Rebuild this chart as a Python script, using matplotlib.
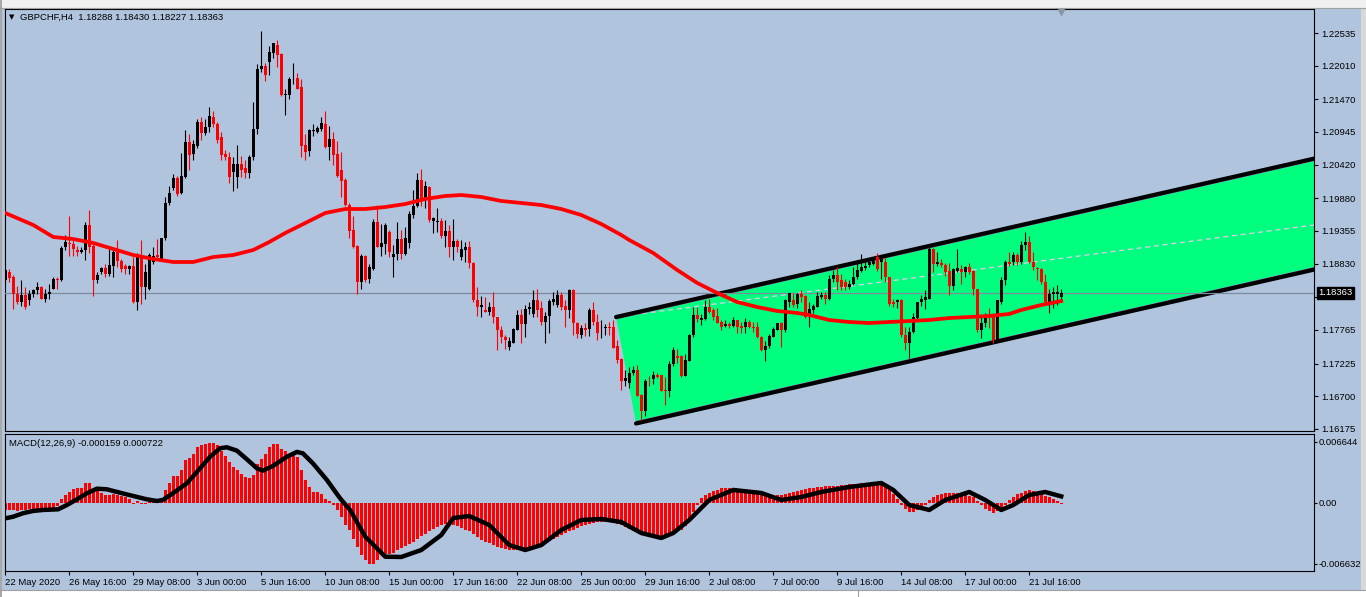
import matplotlib
matplotlib.use("Agg")
import matplotlib.pyplot as plt
from matplotlib.patches import Polygon, Rectangle
import numpy as np

W, H = 1366, 597
BG = "#b0c4de"
plt.rcParams["font.family"] = ["Liberation Sans", "DejaVu Sans"]
plt.rcParams["font.size"] = 6.8

# GBPCHF H4 candles (bar 0 = 22 May 2020 00:00)
opens = [
    1.1856, 1.1869, 1.1862, 1.1835, 1.1822, 1.1832, 1.1825, 1.1834, 1.1840, 1.1846,
    1.1827, 1.1834, 1.1843, 1.1859, 1.1856, 1.1909, 1.1917, 1.1914, 1.1905, 1.1901,
    1.1905, 1.1945, 1.1911, 1.1856, 1.1869, 1.1876, 1.1866, 1.1879, 1.1901, 1.1887,
    1.1879, 1.1874, 1.1879, 1.1821, 1.1893, 1.1845, 1.1842, 1.1885, 1.1897, 1.1890,
    1.1924, 1.1980, 1.2004, 1.2020, 1.1996, 1.2023, 1.2078, 1.2059, 1.2072, 1.2110,
    1.2093, 1.2102, 1.2118, 1.2108, 1.2086, 1.2059, 1.2054, 1.2031, 1.2023, 1.2043,
    1.2036, 1.2029, 1.2054, 1.2100, 1.2195, 1.2201, 1.2207, 1.2222, 1.2235, 1.2219,
    1.2154, 1.2154, 1.2181, 1.2182, 1.2166, 1.2073, 1.2064, 1.2096, 1.2095, 1.2099,
    1.2108, 1.2071, 1.2084, 1.2059, 1.2033, 1.2017, 1.1977, 1.1937, 1.1911, 1.1854,
    1.1895, 1.1858, 1.1874, 1.1950, 1.1910, 1.1915, 1.1934, 1.1893, 1.1898, 1.1922,
    1.1899, 1.1916, 1.1961, 1.1976, 1.2018, 1.1988, 1.2006, 1.1952, 1.1950, 1.1952,
    1.1928, 1.1936, 1.1909, 1.1920, 1.1893, 1.1905, 1.1909, 1.1884, 1.1825, 1.1813,
    1.1809, 1.1806, 1.1814, 1.1798, 1.1776, 1.1766, 1.1749, 1.1756, 1.1777, 1.1801,
    1.1786, 1.1810, 1.1802, 1.1824, 1.1811, 1.1790, 1.1799, 1.1822, 1.1817, 1.1833,
    1.1815, 1.1808, 1.1841, 1.1787, 1.1769, 1.1779, 1.1778, 1.1808, 1.1790, 1.1776,
    1.1779, 1.1781, 1.1781, 1.1750, 1.1730, 1.1694, 1.1692, 1.1707, 1.1712, 1.1672,
    1.1647, 1.1695, 1.1697, 1.1704, 1.1704, 1.1680, 1.1678, 1.1722, 1.1735, 1.1734,
    1.1703, 1.1727, 1.1769, 1.1801, 1.1792, 1.1794, 1.1814, 1.1808, 1.1799, 1.1790,
    1.1783, 1.1786, 1.1783, 1.1793, 1.1783, 1.1781, 1.1790, 1.1781, 1.1781, 1.1765,
    1.1744, 1.1750, 1.1766, 1.1777, 1.1787, 1.1776, 1.1822, 1.1824, 1.1818, 1.1834,
    1.1831, 1.1802, 1.1809, 1.1814, 1.1830, 1.1833, 1.1827, 1.1858, 1.1865, 1.1856,
    1.1854, 1.1845, 1.1850, 1.1861, 1.1872, 1.1876, 1.1881, 1.1883, 1.1893, 1.1885,
    1.1885, 1.1861, 1.1822, 1.1821, 1.1824, 1.1769, 1.1755, 1.1774, 1.1795, 1.1821,
    1.1825, 1.1827, 1.1906, 1.1883, 1.1884, 1.1881, 1.1872, 1.1847, 1.1872, 1.1874,
    1.1870, 1.1877, 1.1872, 1.1843, 1.1776, 1.1787, 1.1801, 1.1798, 1.1760, 1.1822,
    1.1856, 1.1886, 1.1885, 1.1897, 1.1885, 1.1913, 1.1918, 1.1886, 1.1876, 1.1874,
    1.1854, 1.1822, 1.1834, 1.1834, 1.18288,
]
highs = [
    1.1875, 1.1874, 1.1865, 1.1847, 1.1857, 1.1846, 1.1840, 1.1843, 1.1854, 1.1847,
    1.1842, 1.1851, 1.1861, 1.1862, 1.1912, 1.1929, 1.1959, 1.1921, 1.1912, 1.1910,
    1.1950, 1.1970, 1.1916, 1.1869, 1.1878, 1.1883, 1.1906, 1.1906, 1.1921, 1.1891,
    1.1883, 1.1881, 1.1894, 1.1900, 1.1921, 1.1883, 1.1900, 1.1910, 1.1922, 1.1924,
    1.1990, 1.2007, 1.2027, 1.2024, 1.2061, 1.2097, 1.2092, 1.2081, 1.2116, 1.2118,
    1.2116, 1.2134, 1.2128, 1.2111, 1.2095, 1.2066, 1.2063, 1.2055, 1.2073, 1.2056,
    1.2050, 1.2058, 1.2143, 1.2204, 1.2256, 1.2205, 1.2232, 1.2238, 1.2242, 1.2222,
    1.2164, 1.2183, 1.2206, 1.2190, 1.2179, 1.2092, 1.2100, 1.2107, 1.2104, 1.2118,
    1.2128, 1.2104, 1.2094, 1.2080, 1.2063, 1.2020, 1.1980, 1.1960, 1.1913, 1.1899,
    1.1897, 1.1883, 1.1954, 1.1977, 1.1947, 1.1948, 1.1937, 1.1913, 1.1950, 1.1937,
    1.1942, 1.1967, 1.2001, 1.2028, 1.2035, 1.2016, 1.2007, 1.1958, 1.1972, 1.1957,
    1.1953, 1.1945, 1.1954, 1.1922, 1.1921, 1.1918, 1.1920, 1.1885, 1.1845, 1.1831,
    1.1830, 1.1822, 1.1838, 1.1798, 1.1783, 1.1769, 1.1766, 1.1779, 1.1809, 1.1810,
    1.1817, 1.1822, 1.1841, 1.1842, 1.1823, 1.1806, 1.1826, 1.1838, 1.1841, 1.1838,
    1.1825, 1.1843, 1.1842, 1.1790, 1.1785, 1.1787, 1.1811, 1.1822, 1.1802, 1.1792,
    1.1786, 1.1790, 1.1792, 1.1761, 1.1731, 1.1713, 1.1717, 1.1718, 1.1720, 1.1674,
    1.1697, 1.1702, 1.1710, 1.1708, 1.1704, 1.1701, 1.1727, 1.1749, 1.1746, 1.1736,
    1.1738, 1.1770, 1.1814, 1.1814, 1.1802, 1.1825, 1.1826, 1.1811, 1.1811, 1.1793,
    1.1793, 1.1790, 1.1797, 1.1793, 1.1790, 1.1795, 1.1793, 1.1790, 1.1790, 1.1767,
    1.1758, 1.1770, 1.1782, 1.1788, 1.1790, 1.1826, 1.1836, 1.1836, 1.1836, 1.1841,
    1.1833, 1.1822, 1.1819, 1.1838, 1.1838, 1.1838, 1.1865, 1.1873, 1.1878, 1.1867,
    1.1859, 1.1856, 1.1877, 1.1885, 1.1899, 1.1888, 1.1890, 1.1894, 1.1900, 1.1893,
    1.1892, 1.1862, 1.1826, 1.1826, 1.1826, 1.1781, 1.1781, 1.1803, 1.1822, 1.1833,
    1.1840, 1.1915, 1.1908, 1.1902, 1.1890, 1.1884, 1.1884, 1.1876, 1.1906, 1.1881,
    1.1879, 1.1884, 1.1873, 1.1843, 1.1801, 1.1803, 1.1811, 1.1802, 1.1824, 1.1861,
    1.1889, 1.1902, 1.1902, 1.1900, 1.1920, 1.1934, 1.1927, 1.1902, 1.1878, 1.1876,
    1.1866, 1.1843, 1.1846, 1.1849, 1.18430,
]
lows = [
    1.1854, 1.1854, 1.1810, 1.1818, 1.1815, 1.1810, 1.1817, 1.1830, 1.1835, 1.1826,
    1.1822, 1.1827, 1.1842, 1.1843, 1.1855, 1.1905, 1.1895, 1.1896, 1.1895, 1.1900,
    1.1889, 1.1900, 1.1831, 1.1852, 1.1866, 1.1862, 1.1863, 1.1861, 1.1878, 1.1869,
    1.1867, 1.1866, 1.1820, 1.1809, 1.1818, 1.1827, 1.1841, 1.1882, 1.1889, 1.1889,
    1.1921, 1.1977, 1.2001, 1.1992, 1.1995, 1.2020, 1.2034, 1.2049, 1.2068, 1.2081,
    1.2089, 1.2095, 1.2103, 1.2077, 1.2050, 1.2049, 1.2013, 1.2000, 1.2005, 1.2023,
    1.2020, 1.2020, 1.2050, 1.2092, 1.2191, 1.2177, 1.2186, 1.2214, 1.2199, 1.2152,
    1.2121, 1.2148, 1.2172, 1.2163, 1.2055, 1.2050, 1.2056, 1.2088, 1.2093, 1.2096,
    1.2068, 1.2049, 1.2041, 1.2023, 1.1990, 1.1975, 1.1924, 1.1908, 1.1835, 1.1843,
    1.1854, 1.1852, 1.1873, 1.1909, 1.1895, 1.1899, 1.1894, 1.1862, 1.1889, 1.1890,
    1.1897, 1.1908, 1.1956, 1.1974, 1.1975, 1.1972, 1.1950, 1.1932, 1.1934, 1.1925,
    1.1909, 1.1894, 1.1889, 1.1901, 1.1889, 1.1886, 1.1876, 1.1822, 1.1799, 1.1798,
    1.1806, 1.1801, 1.1787, 1.1745, 1.1755, 1.1746, 1.1745, 1.1755, 1.1776, 1.1756,
    1.1766, 1.1802, 1.1798, 1.1797, 1.1785, 1.1755, 1.1771, 1.1817, 1.1814, 1.1809,
    1.1781, 1.1795, 1.1769, 1.1763, 1.1763, 1.1767, 1.1767, 1.1785, 1.1761, 1.1763,
    1.1769, 1.1769, 1.1747, 1.1724, 1.1680, 1.1686, 1.1683, 1.1704, 1.1670, 1.1632,
    1.1639, 1.1686, 1.1690, 1.1699, 1.1678, 1.1656, 1.1669, 1.1719, 1.1724, 1.1701,
    1.1702, 1.1726, 1.1766, 1.1790, 1.1785, 1.1793, 1.1804, 1.1793, 1.1787, 1.1777,
    1.1781, 1.1779, 1.1781, 1.1772, 1.1771, 1.1772, 1.1779, 1.1774, 1.1763, 1.1742,
    1.1726, 1.1747, 1.1765, 1.1776, 1.1749, 1.1774, 1.1814, 1.1814, 1.1811, 1.1822,
    1.1795, 1.1781, 1.1803, 1.1813, 1.1827, 1.1819, 1.1824, 1.1854, 1.1841, 1.1841,
    1.1840, 1.1843, 1.1849, 1.1859, 1.1870, 1.1873, 1.1878, 1.1881, 1.1872, 1.1859,
    1.1853, 1.1815, 1.1814, 1.1811, 1.1766, 1.1744, 1.1731, 1.1772, 1.1793, 1.1815,
    1.1810, 1.1826, 1.1869, 1.1879, 1.1878, 1.1863, 1.1833, 1.1840, 1.1869, 1.1851,
    1.1861, 1.1867, 1.1833, 1.1774, 1.1763, 1.1782, 1.1779, 1.1756, 1.1758, 1.1819,
    1.1849, 1.1879, 1.1881, 1.1881, 1.1882, 1.1905, 1.1884, 1.1873, 1.1857, 1.1851,
    1.1820, 1.1804, 1.1811, 1.1817, 1.18227,
]
closes = [
    1.1873, 1.1860, 1.1835, 1.1822, 1.1832, 1.1813, 1.1835, 1.1841, 1.1846, 1.1827,
    1.1835, 1.1838, 1.1859, 1.1856, 1.1908, 1.1918, 1.1914, 1.1907, 1.1901, 1.1905,
    1.1945, 1.1910, 1.1856, 1.1865, 1.1876, 1.1867, 1.1881, 1.1901, 1.1887, 1.1875,
    1.1875, 1.1879, 1.1821, 1.1893, 1.1845, 1.1869, 1.1897, 1.1896, 1.1893, 1.1924,
    1.1980, 1.1997, 1.2020, 1.1995, 1.2024, 1.2078, 1.2058, 1.2076, 1.2110, 1.2093,
    1.2103, 1.2120, 1.2107, 1.2081, 1.2058, 1.2054, 1.2023, 1.2043, 1.2043, 1.2033,
    1.2029, 1.2055, 1.2100, 1.2195, 1.2201, 1.2186, 1.2223, 1.2237, 1.2218, 1.2154,
    1.2155, 1.2180, 1.2182, 1.2164, 1.2072, 1.2063, 1.2097, 1.2097, 1.2101, 1.2109,
    1.2070, 1.2084, 1.2057, 1.2024, 1.2016, 1.1977, 1.1936, 1.1909, 1.1854, 1.1895,
    1.1857, 1.1877, 1.1950, 1.1910, 1.1917, 1.1945, 1.1901, 1.1899, 1.1922, 1.1899,
    1.1924, 1.1963, 1.1976, 1.2017, 1.1985, 1.2007, 1.1953, 1.1957, 1.1952, 1.1928,
    1.1936, 1.1909, 1.1920, 1.1909, 1.1906, 1.1909, 1.1884, 1.1824, 1.1813, 1.1817,
    1.1806, 1.1814, 1.1797, 1.1776, 1.1765, 1.1760, 1.1758, 1.1778, 1.1801, 1.1786,
    1.1810, 1.1814, 1.1824, 1.1809, 1.1790, 1.1799, 1.1823, 1.1827, 1.1833, 1.1814,
    1.1808, 1.1841, 1.1787, 1.1770, 1.1779, 1.1777, 1.1808, 1.1790, 1.1772, 1.1777,
    1.1781, 1.1780, 1.1747, 1.1728, 1.1694, 1.1699, 1.1707, 1.1712, 1.1671, 1.1647,
    1.1695, 1.1694, 1.1704, 1.1701, 1.1679, 1.1678, 1.1722, 1.1744, 1.1731, 1.1703,
    1.1728, 1.1769, 1.1801, 1.1794, 1.1795, 1.1814, 1.1806, 1.1797, 1.1788, 1.1781,
    1.1786, 1.1783, 1.1793, 1.1781, 1.1779, 1.1790, 1.1781, 1.1779, 1.1765, 1.1744,
    1.1751, 1.1767, 1.1778, 1.1788, 1.1776, 1.1824, 1.1836, 1.1817, 1.1834, 1.1830,
    1.1797, 1.1810, 1.1815, 1.1831, 1.1833, 1.1827, 1.1859, 1.1865, 1.1854, 1.1846,
    1.1845, 1.1851, 1.1861, 1.1873, 1.1877, 1.1879, 1.1885, 1.1888, 1.1874, 1.1890,
    1.1861, 1.1819, 1.1819, 1.1824, 1.1769, 1.1755, 1.1774, 1.1797, 1.1822, 1.1826,
    1.1829, 1.1906, 1.1883, 1.1885, 1.1881, 1.1870, 1.1847, 1.1874, 1.1876, 1.1869,
    1.1877, 1.1870, 1.1843, 1.1776, 1.1787, 1.1798, 1.1795, 1.1760, 1.1824, 1.1857,
    1.1886, 1.1883, 1.1897, 1.1885, 1.1913, 1.1918, 1.1885, 1.1878, 1.1874, 1.1854,
    1.1822, 1.1834, 1.1837, 1.1837, 1.18363,
]

# red moving average, sampled along the curve
ma_bars = [0, 7, 12, 17, 22, 27, 32, 37, 42, 47, 52, 57, 62, 66, 70, 75, 80, 85, 90,
           95, 100, 105, 110, 114, 119, 124, 129, 134, 139, 144, 149, 154, 156, 162,
           168, 173, 178, 183, 188, 193, 198, 201, 206, 211, 216, 221, 226, 231, 236,
           241, 246, 251, 254, 259, 264]
ma_vals = [1.19644, 1.19451, 1.19258, 1.19226, 1.19162, 1.19066, 1.18969, 1.18905,
           1.18857, 1.18857, 1.18937, 1.18969, 1.19050, 1.19178, 1.19323, 1.19483,
           1.19644, 1.19708, 1.19708, 1.19740, 1.19788, 1.19869, 1.19917, 1.19933,
           1.19901, 1.19837, 1.19805, 1.19772, 1.19708, 1.19612, 1.19467, 1.19291,
           1.19210, 1.19001, 1.18728, 1.18520, 1.18359, 1.18214, 1.18134, 1.18070,
           1.18038, 1.18006, 1.17925, 1.17893, 1.17877, 1.17893, 1.17909, 1.17925,
           1.17957, 1.17973, 1.17990, 1.18022, 1.18086, 1.18166, 1.18230]

# channel object (two rays + dashed middle line)
upper_x = [152.7, 340.0]
upper_y = [1.17973, 1.20704]
lower_x = [157.7, 340.0]
lower_y = [1.16263, 1.18921]
mid_x = [152.7, 340.0]
mid_y = [1.17973, 1.19559]
last_price = 1.18363

# MACD(12,26,9)
macd_hist = [
    -0.00080, -0.00073, -0.00080, -0.00087, -0.00080, -0.00073, -0.00065, -0.00065, -0.00062, -0.00062,
    -0.00058, -0.00058, -0.00051, -0.00036, 0.00040, 0.00083, 0.00120, 0.00156, 0.00167, 0.00167,
    0.00218, 0.00218, 0.00138, 0.00131, 0.00109, 0.00083, 0.00083, 0.00094, 0.00083, 0.00073,
    0.00065, 0.00047, -0.00015, 0.00022, -0.00015, -0.00015, 0.00011, 0.00022, 0.00022, 0.00047,
    0.00138, 0.00218, 0.00290, 0.00290, 0.00363, 0.00472, 0.00494, 0.00530, 0.00610, 0.00628,
    0.00639, 0.00657, 0.00653, 0.00628, 0.00566, 0.00508, 0.00446, 0.00392, 0.00356, 0.00319,
    0.00283, 0.00276, 0.00301, 0.00428, 0.00483, 0.00537, 0.00610, 0.00639, 0.00646, 0.00592,
    0.00566, 0.00537, 0.00519, 0.00501, 0.00356, 0.00247, 0.00174, 0.00120, 0.00120, 0.00102,
    0.00047, 0.00022, -0.00025, -0.00080, -0.00152, -0.00243, -0.00298, -0.00388, -0.00479, -0.00570,
    -0.00624, -0.00661, -0.00668, -0.00624, -0.00552, -0.00552, -0.00552, -0.00545, -0.00508, -0.00490,
    -0.00470, -0.00450, -0.00430, -0.00390, -0.00360, -0.00340, -0.00310, -0.00280, -0.00260, -0.00240,
    -0.00230, -0.00230, -0.00240, -0.00250, -0.00270, -0.00290, -0.00310, -0.00340, -0.00370, -0.00400,
    -0.00420, -0.00440, -0.00460, -0.00480, -0.00490, -0.00500, -0.00510, -0.00510, -0.00510, -0.00500,
    -0.00490, -0.00480, -0.00470, -0.00460, -0.00450, -0.00430, -0.00410, -0.00390, -0.00370, -0.00350,
    -0.00330, -0.00310, -0.00290, -0.00270, -0.00250, -0.00240, -0.00230, -0.00220, -0.00210, -0.00210,
    -0.00210, -0.00210, -0.00220, -0.00230, -0.00240, -0.00260, -0.00280, -0.00300, -0.00320, -0.00340,
    -0.00350, -0.00360, -0.00370, -0.00370, -0.00370, -0.00360, -0.00350, -0.00330, -0.00310, -0.00290,
    -0.00250, -0.00180, -0.00100, -0.00020, 0.00050, 0.00090, 0.00110, 0.00130, 0.00140, 0.00160,
    0.00160, 0.00160, 0.00160, 0.00150, 0.00150, 0.00140, 0.00130, 0.00110, 0.00100, 0.00090,
    0.00080, 0.00080, 0.00080, 0.00090, 0.00090, 0.00100, 0.00110, 0.00120, 0.00130, 0.00140,
    0.00150, 0.00160, 0.00160, 0.00170, 0.00170, 0.00180, 0.00180, 0.00190, 0.00190, 0.00200,
    0.00200, 0.00210, 0.00210, 0.00210, 0.00220, 0.00220, 0.00220, 0.00220, 0.00220, 0.00220,
    0.00210, 0.00170, 0.00100, 0.00040, -0.00020, -0.00070, -0.00100, -0.00100, -0.00080, -0.00050,
    -0.00020, 0.00030, 0.00070, 0.00090, 0.00100, 0.00110, 0.00110, 0.00110, 0.00110, 0.00100,
    0.00090, 0.00080, 0.00060, 0.00020, -0.00020, -0.00060, -0.00090, -0.00110, -0.00090, -0.00060,
    -0.00020, 0.00030, 0.00070, 0.00100, 0.00110, 0.00130, 0.00140, 0.00130, 0.00120, 0.00100,
    0.00080, 0.00060, 0.00040, 0.00020, -0.000159,
]
# signal line, sampled along the curve
sig_bars = [0, 2, 4.4, 6.9, 9.4, 13.2, 15.4, 17.9, 20.4, 22.9, 25.4, 28.7, 32, 35.4,
            37.9, 39.4, 41.9, 45.4, 48.7, 51.2, 53.7, 55.4, 57.9, 60.4, 62.9, 64.4,
            66.9, 70.4, 72.9, 74.4, 76.9, 80.4, 83.7, 86.2, 90, 95, 99, 104, 109, 112,
            116, 121, 126, 130, 134, 139, 144, 149, 154, 159, 164, 167, 171, 176, 182,
            189, 194, 199, 204, 211, 219, 222, 226, 231, 235, 241, 245, 249, 252, 256,
            260, 264]
sig_vals = [-0.00167, -0.00149, -0.00112, -0.00087, -0.00076, -0.00069, -0.00022,
            0.00040, 0.00106, 0.00156, 0.00149, 0.00112, 0.00076, 0.00040, 0.00022,
            0.00033, 0.00106, 0.00215, 0.00378, 0.00504, 0.00596, 0.00607, 0.00570,
            0.00476, 0.00378, 0.00352, 0.00403, 0.00504, 0.00556, 0.00541, 0.00432,
            0.00251, 0.00051, -0.00076, -0.00367, -0.00585, -0.00588, -0.00512,
            -0.00349, -0.00163, -0.00142, -0.00240, -0.00458, -0.00512, -0.00458,
            -0.00294, -0.00185, -0.00174, -0.00207, -0.00327, -0.00381, -0.00327,
            -0.00185, 0.00033, 0.00142, 0.00109, 0.00033, 0.00065, 0.00120, 0.00174,
            0.00218, 0.00142, -0.00022, -0.00076, 0.00033, 0.00120, 0.00033, -0.00076,
            -0.00022, 0.00087, 0.00120, 0.000722]

price_ticks = [1.22535, 1.22010, 1.21470, 1.20945, 1.20420, 1.19880, 1.19355,
               1.18830, 1.18296, 1.17765, 1.17225, 1.16700, 1.16175]
macd_ticks = [0.006644, 0.0, -0.006632]
macd_labels = ["0.006644", "0.00", "-0.006632"]
date_bars = list(range(0, 257, 16))
date_labels = ["22 May 2020", "26 May 16:00", "29 May 08:00", "3 Jun 00:00",
               "5 Jun 16:00", "10 Jun 08:00", "15 Jun 00:00", "17 Jun 16:00",
               "22 Jun 08:00", "25 Jun 00:00", "29 Jun 16:00", "2 Jul 08:00",
               "7 Jul 00:00", "9 Jul 16:00", "14 Jul 08:00", "17 Jul 00:00",
               "21 Jul 16:00"]

fig = plt.figure(figsize=(W / 100, H / 100), dpi=100, facecolor=BG)


def px_axes(x0, y0, x1, y1):
    a = fig.add_axes([x0 / W, 1 - y1 / H, (x1 - x0) / W, (y1 - y0) / H])
    a.set_facecolor(BG)
    for s in a.spines.values():
        s.set_linewidth(0.8)
        s.set_color("black")
    return a


# window chrome
fig.patches.append(Rectangle((0, 1 - 8 / H), 1, 8 / H, transform=fig.transFigure,
                             facecolor="#f0f0f0", edgecolor="none", zorder=0))
fig.patches.append(Rectangle((0, 0), 1, 7 / H, transform=fig.transFigure,
                             facecolor="#ffffff", edgecolor="none", zorder=0))
fig.patches.append(Rectangle((0, 0), 2 / W, 1, transform=fig.transFigure,
                             facecolor="#a8a8a8", edgecolor="none", zorder=0))
fig.patches.append(Rectangle((1361 / W, 7 / H), 5 / W, 1 - 15 / H, transform=fig.transFigure,
                             facecolor="#d8d8d8", edgecolor="none", zorder=0))
fig.add_artist(plt.Line2D([0, 1], [1 - 8 / H, 1 - 8 / H], transform=fig.transFigure,
                          color="#a0a0a0", lw=0.8))
fig.add_artist(plt.Line2D([0, 1], [7 / H, 7 / H], transform=fig.transFigure,
                          color="#a0a0a0", lw=0.8))
fig.add_artist(plt.Line2D([858 / W, 858 / W], [0, 7 / H], transform=fig.transFigure,
                          color="#a0a0a0", lw=0.8))

# ---- price window ----
ax = px_axes(4.5, 9, 1314, 431)
ax.set_xlim(-0.2, 327.2)
ax.set_ylim(1.161424, 1.229205)

poly = Polygon([(upper_x[0], upper_y[0]), (upper_x[1], upper_y[1]),
                (lower_x[1], lower_y[1]), (lower_x[0], lower_y[0])],
               closed=True, facecolor="#00ff7f", edgecolor="none", zorder=1)
ax.add_patch(poly)
ax.plot(mid_x, mid_y, color="#e8c8f0", lw=0.9, dashes=(4, 3), zorder=2)
ax.plot(upper_x, [v - 0.00032 for v in upper_y], color="#c040c0", lw=0.7, zorder=2)
ax.plot(lower_x, [v + 0.00032 for v in lower_y], color="#c040c0", lw=0.7, zorder=2)
ax.plot(upper_x, upper_y, color="black", lw=3.0, zorder=3, solid_capstyle="round")
ax.plot(lower_x, lower_y, color="black", lw=3.0, zorder=3, solid_capstyle="round")

ax.axhline(last_price, color="#7f8a9c", lw=0.9, zorder=3)

o = np.array(opens)
h = np.array(highs)
l = np.array(lows)
c = np.array(closes)
x = np.arange(len(c))
cols = np.where(c >= o, "black", "red")
ax.vlines(x, l, h, colors=cols, linewidth=0.8, zorder=4)
ax.bar(x, np.maximum(np.abs(c - o), 0.00008), bottom=np.minimum(o, c), width=0.75,
       color=cols, linewidth=0, zorder=5)

ax.plot(ma_bars, ma_vals, color="red", lw=2.7, zorder=6)

ax.set_xticks([])
ax.yaxis.tick_right()
ax.set_yticks(price_ticks)
ax.set_yticklabels([f"{v:.5f}" for v in price_ticks])
ax.tick_params(axis="y", length=3, width=0.8, pad=2, labelsize=6.8, colors="black")

ax.text(1.0035, last_price, "1.18363", transform=ax.get_yaxis_transform(), ha="left",
        va="center", color="white", fontsize=6.8, clip_on=False, zorder=10,
        bbox=dict(boxstyle="square,pad=0.18", fc="black", ec="black"))
ax.plot([264], [0.994], marker="v", ms=4.5, color="#8c96a6", transform=ax.get_xaxis_transform(),
        clip_on=False, zorder=10)

fig.text(9 / W, 1 - 17.5 / H, "▼", fontsize=5, family=["DejaVu Sans"], va="center", ha="left")
fig.text(20 / W, 1 - 17.5 / H, "GBPCHF,H4  1.18288 1.18430 1.18227 1.18363",
         va="center", ha="left", fontsize=6.8)

# ---- MACD window ----
ax2 = px_axes(4.5, 434, 1314, 571)
ax2.set_xlim(-0.2, 327.2)
ax2.set_ylim(-0.007407, 0.007515)
ax2.bar(x, macd_hist, width=0.7, color="red", linewidth=0, zorder=2)
ax2.plot(sig_bars, sig_vals, color="black", lw=3.2, zorder=3, solid_joinstyle="round")

ax2.yaxis.tick_right()
ax2.set_yticks(macd_ticks)
ax2.set_yticklabels(macd_labels)
ax2.tick_params(axis="y", length=2, width=0.8, pad=1, labelsize=6.8)
ax2.set_xticks(date_bars)
ax2.set_xticklabels(date_labels, ha="left")
ax2.tick_params(axis="x", length=3, width=0.8, pad=2, labelsize=6.8)

fig.text(9 / W, 1 - 443 / H, "MACD(12,26,9) -0.000159 0.000722", va="center", ha="left",
         fontsize=6.8)

fig.savefig("out.png", dpi=100, facecolor=BG)
